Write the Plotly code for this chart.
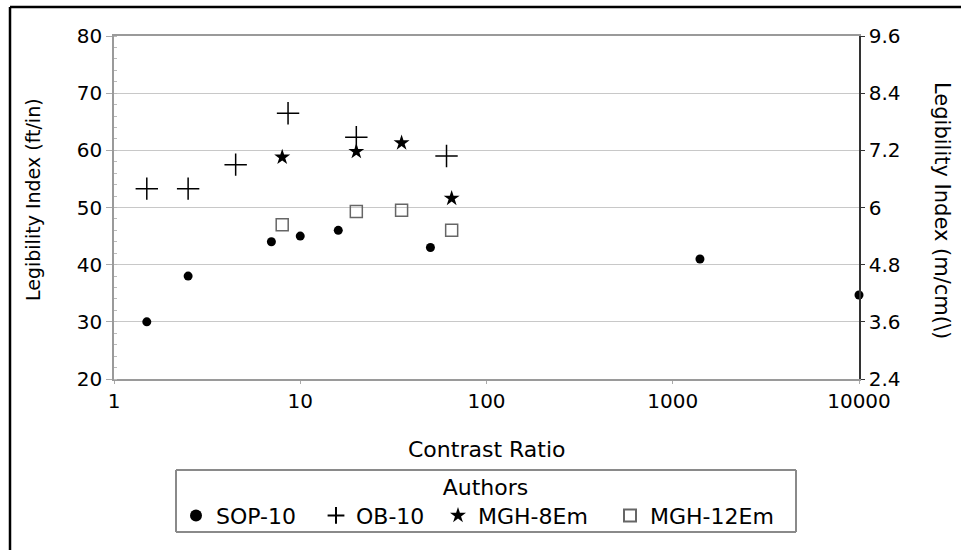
import plotly.graph_objects as go

# ---- data ----
sop_x = [1.5, 2.5, 7, 10, 16, 50, 1400, 10000]
sop_y = [30, 38, 44, 45, 46, 43, 41, 34.7]
ob_x = [1.5, 2.5, 4.5, 8.6, 20, 61]
ob_y = [53.3, 53.3, 57.5, 66.5, 62.3, 59]
mgh8_x = [8, 20, 35, 65]
mgh8_y = [58.8, 59.8, 61.3, 51.6]
mgh12_x = [8, 20, 35, 65]
mgh12_y = [47, 49.3, 49.5, 46]

x_ticks = [1, 10, 100, 1000, 10000]
x_ticktext = ["1", "10", "100", "1000", "10000"]
y_left_ticks = [20, 30, 40, 50, 60, 70, 80]
y_right_ticks = [2.4, 3.6, 4.8, 6.0, 7.2, 8.4, 9.6]
y_right_text = ["2.4", "3.6", "4.8", "6", "7.2", "8.4", "9.6"]

FONT = "DejaVu Sans, Liberation Sans, Arial, sans-serif"

fig = go.Figure()
fig.add_trace(go.Scatter(x=sop_x, y=sop_y, mode="markers", name="SOP-10",
                         marker=dict(symbol="circle", size=9, color="black"),
                         legendwidth=95, cliponaxis=False))
fig.add_trace(go.Scatter(x=ob_x, y=ob_y, mode="markers", name="OB-10",
                         marker=dict(symbol="cross-thin-open", size=16, color="black",
                                     line=dict(color="black", width=1.5)),
                         legendwidth=77, cliponaxis=False))
fig.add_trace(go.Scatter(x=mgh8_x, y=mgh8_y, mode="markers", name="MGH-8Em",
                         marker=dict(symbol="star", size=12, color="black"),
                         legendwidth=127, cliponaxis=False))
fig.add_trace(go.Scatter(x=mgh12_x, y=mgh12_y, mode="markers", name="MGH-12Em",
                         marker=dict(symbol="square-open", size=12, color="#666",
                                     line=dict(width=1.5)),
                         legendwidth=140, cliponaxis=False))
# invisible trace to activate the right axis
fig.add_trace(go.Scatter(x=[1], y=[2.4], yaxis="y2", mode="markers",
                         marker=dict(opacity=0), showlegend=False, hoverinfo="skip"))

L, R, T, B = 114, 102, 36, 171
W, H = 961, 550
PW, PH = W - L - R, H - T - B


def px(xp):
    return (xp - L) / PW


def py(yp):
    return (H - B - yp) / PH


fig.update_layout(
    width=W, height=H,
    margin=dict(l=L, r=R, t=T, b=B),
    paper_bgcolor="white", plot_bgcolor="white",
    font=dict(family=FONT, size=20, color="black"),
    xaxis=dict(type="log", range=[0, 4], tickvals=x_ticks, ticktext=x_ticktext,
               showgrid=False, showline=True, linecolor="#9a9a9a", linewidth=1.5,
               mirror=True, ticks="outside", ticklen=3, tickcolor="#aaa",
               tickfont=dict(size=20), zeroline=False),
    yaxis=dict(range=[20, 80], tickvals=y_left_ticks, showgrid=True,
               gridcolor="#c8c8c8", gridwidth=1.2, showline=True,
               linecolor="#9a9a9a", linewidth=1.5, ticks="outside", ticklen=6,
               tickcolor="#aaa", tickfont=dict(size=20), zeroline=False,
               minor=dict(ticks="inside", ticklen=3, dtick=2, tickcolor="#bbb")),
    yaxis2=dict(range=[2.4, 9.6], tickvals=y_right_ticks, ticktext=y_right_text,
                overlaying="y", side="right", showgrid=False, showline=True,
                linecolor="#333", linewidth=1.5, ticks="outside", ticklen=4,
                tickcolor="#333", tickfont=dict(size=20), zeroline=False),
    legend=dict(orientation="h", xref="container", yref="container",
                x=176 / W, xanchor="left", y=1 - 466 / H, yanchor="top",
                borderwidth=0, bgcolor="rgba(0,0,0,0)",
                font=dict(size=22), itemsizing="constant",
                title=dict(text="Authors", side="top center", font=dict(size=22))),
    showlegend=True,
)

fig.add_annotation(text="Legibility Index (ft/in)", xref="paper", yref="paper",
                   x=px(33), y=py(200), xanchor="center", yanchor="middle",
                   textangle=-90, showarrow=False, font=dict(size=19))
fig.add_annotation(text="Legibility Index (m/cm(\\)", xref="paper", yref="paper",
                   x=px(942), y=py(210), xanchor="center", yanchor="middle",
                   textangle=90, showarrow=False, font=dict(size=21))
fig.add_annotation(text="Contrast Ratio", xref="paper", yref="paper",
                   x=px(486), y=py(449), xanchor="center", yanchor="middle",
                   showarrow=False, font=dict(size=22))

# legend frame
for (xa, ya, xb, yb) in [(176, 470, 796, 470), (176, 532, 796, 532),
                         (176, 470, 176, 532), (796, 470, 796, 532)]:
    fig.add_shape(type="line", xref="paper", yref="paper",
                  x0=px(xa), y0=py(ya), x1=px(xb), y1=py(yb),
                  line=dict(color="#8a8a8a", width=2))
# outer frame (left and top edges visible in the crop)
fig.add_shape(type="line", xref="paper", yref="paper", x0=px(10), x1=px(10),
              y0=py(560), y1=py(7), line=dict(color="black", width=2.5))
fig.add_shape(type="line", xref="paper", yref="paper", x0=px(10), x1=px(975),
              y0=py(7), y1=py(7), line=dict(color="black", width=2.5))

fig.write_html("out.html")
